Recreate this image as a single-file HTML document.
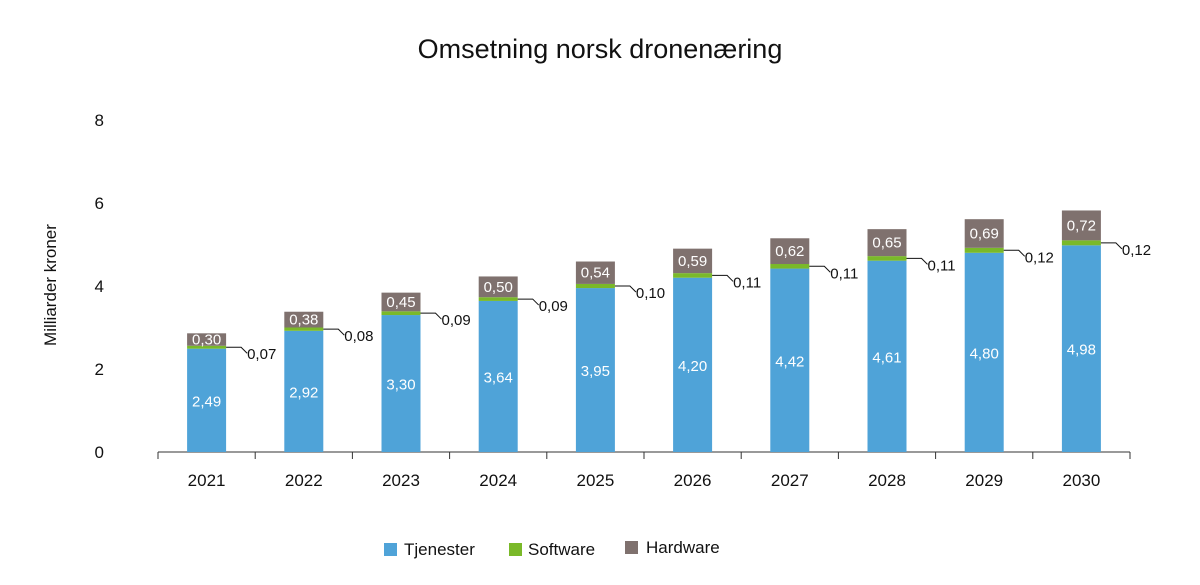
<!DOCTYPE html>
<html><head><meta charset="utf-8"><style>
body{margin:0;background:#fff;font-family:"Liberation Sans",sans-serif}
svg text{font-family:"Liberation Sans",sans-serif}
</style></head><body>
<svg id="chart" width="1200" height="580" xmlns="http://www.w3.org/2000/svg">
<text x="600" y="58" text-anchor="middle" font-size="27" fill="#111">Omsetning norsk dronenæring</text>
<text transform="translate(56,285) rotate(-90)" text-anchor="middle" font-size="17" fill="#111">Milliarder kroner</text>
<g id="axes"></g>
<g id="bars"></g>
<g>
<rect x="384" y="543" width="13" height="13" fill="#4fa3d8"/><text x="404" y="555" font-size="17" fill="#111">Tjenester</text>
<rect x="509" y="543" width="13" height="13" fill="#7ab929"/><text x="528" y="555" font-size="17" fill="#111">Software</text>
<rect x="625" y="541" width="13" height="13" fill="#7f716e"/><text x="646" y="553" font-size="17" fill="#111">Hardware</text>
</g>
</svg>
<script>
const categories=["2021","2022","2023","2024","2025","2026","2027","2028","2029","2030"];
const tjenester=[2.49,2.92,3.30,3.64,3.95,4.20,4.42,4.61,4.80,4.98];
const software=[0.07,0.08,0.09,0.09,0.10,0.11,0.11,0.11,0.12,0.12];
const hardware=[0.30,0.38,0.45,0.50,0.54,0.59,0.62,0.65,0.69,0.72];
const yTicks=[0,2,4,6,8];
const NS="http://www.w3.org/2000/svg";
const x0=158,x1=1130,yb=452,ppu=41.5,bw=39;
const band=(x1-x0)/categories.length;
const y=v=>yb-v*ppu;
const cx=i=>x0+band*(i+0.5);
const fmt=v=>v.toFixed(2).replace('.',',');
function mk(tag,attrs,parent){const e=document.createElementNS(NS,tag);for(const k in attrs)e.setAttribute(k,attrs[k]);parent.appendChild(e);return e;}
const ax=document.getElementById('axes'),bars=document.getElementById('bars');
let l=mk('line',{x1:x0,x2:x1,y1:yb,y2:yb,stroke:'#333','stroke-width':1},ax);


for(let i=0;i<=categories.length;i++){const t=mk('line',{x1:x0+band*i,x2:x0+band*i,y1:yb,y2:yb+7,stroke:'#333'},ax);

}
categories.forEach((c,i)=>{const t=mk('text',{x:cx(i),y:486,'text-anchor':'middle','font-size':17,fill:'#111'},ax);t.textContent=c;

});
yTicks.forEach(v=>{const t=mk('text',{x:104,y:y(v)+6,'text-anchor':'end','font-size':17,fill:'#111'},ax);t.textContent=v;

});
categories.forEach((c,i)=>{
 const left=cx(i)-bw/2,a=tjenester[i],b=software[i],h=hardware[i];
 let r=mk('rect',{x:left,y:y(a),width:bw,height:a*ppu,fill:'#4fa3d8'},bars);
 
 
 r=mk('rect',{x:left,y:y(a+b),width:bw,height:b*ppu,fill:'#7ab929'},bars);
 
 
 r=mk('rect',{x:left,y:y(a+b+h),width:bw,height:h*ppu,fill:'#7f716e'},bars);
 
 
 let t=mk('text',{x:cx(i),y:y(a/2)+6,'text-anchor':'middle','font-size':15,fill:'#fff'},bars);t.textContent=fmt(a);
 
 
 t=mk('text',{x:cx(i),y:y(a+b+h/2)+5,'text-anchor':'middle','font-size':15,fill:'#fff'},bars);t.textContent=fmt(h);
 
 
 const gy=y(a+b/2),rx=left+bw;
 const p=mk('polyline',{points:`${rx},${gy} ${rx+15},${gy} ${rx+21},${gy+6}`,fill:'none',stroke:'#111','stroke-width':1},bars);
 
 
 t=mk('text',{x:rx+21,y:gy+12,'font-size':15,fill:'#111'},bars);t.textContent=fmt(b);
 
 
});
</script>
</body></html>
